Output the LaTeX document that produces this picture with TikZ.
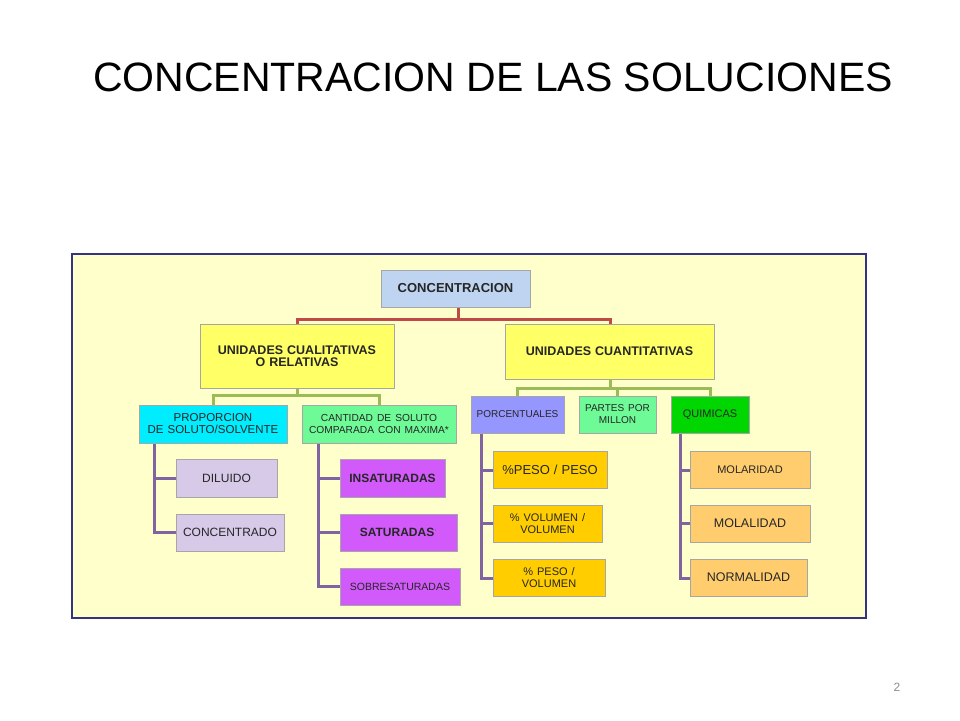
\documentclass[tikz,border=0pt]{standalone}
\usepackage{fontspec}
\setmainfont{Liberation Sans}
\usetikzlibrary{calc}
\definecolor{cconc}{RGB}{190,212,240}
\definecolor{cyel}{RGB}{255,255,102}
\definecolor{ccyan}{RGB}{0,236,255}
\definecolor{cgreen}{RGB}{110,250,150}
\definecolor{cpurple}{RGB}{210,90,250}
\definecolor{clav}{RGB}{214,202,232}
\definecolor{cblue}{RGB}{150,150,255}
\definecolor{clime}{RGB}{0,215,0}
\definecolor{cgold}{RGB}{255,205,0}
\definecolor{ctan}{RGB}{255,205,110}
\definecolor{cframe}{RGB}{255,255,204}
\definecolor{cred}{RGB}{190,75,72}
\definecolor{cgl}{RGB}{155,187,89}
\definecolor{cpl}{RGB}{128,100,162}
\newcommand\bx[7]{\node[boxst,fill=#6,minimum width={(#4-#2)*1pt},minimum height={(#5-#3)*1pt},text width={(#4-#2-4)*1pt}] (#1) at ({(#2+#4)/2},{(#3+#5)/2}) {#7};}
\begin{document}
\begin{tikzpicture}[x=1pt,y=-1pt,
 boxst/.style={draw=black!35,line width=0.8pt,inner sep=1pt,align=center,font=\bfseries\fontsize{12}{12}\selectfont,text=black!85},
 red/.style={draw=cred,line width=3pt},
 grn/.style={draw=cgl,line width=3pt},
 pur/.style={draw=cpl,line width=3pt}]
\useasboundingbox (0,0) rectangle (960,720);
\fill[black!55] (82,58) rectangle (82,58);
\node[font=\fontsize{41}{44}\selectfont,text=black!55] (tshadow) at (496,79) {\phantom{C}};
\node[font=\fontsize{41}{44}\selectfont] (title) at (493,77) {CONCENTRACION DE LAS SOLUCIONES};
\draw[fill=cframe,draw=black!50!blue!60!gray,line width=2.5pt] (72,254) rectangle (866,618);
% connectors
\coordinate (r1) at (458,319);
\draw[red] (458,307) -- (r1);
\draw[red] (297,324) |- (r1) -| (610,324);
\draw[grn] (297,388) -- (297,395);
\draw[grn] (213,405) |- (297,395) -| (379,405);
\draw[grn] (610,379) -- (610,388);
\draw[grn] (517,396) |- (610,388) -| (710,396);
\draw[grn] (617,388) -- (617,396);
\draw[pur] (154,443) |- (176,478);
\draw[pur] (154,470) |- (176,532);
\draw[pur] (318,443) |- (340,478);
\draw[pur] (318,470) |- (340,532);
\draw[pur] (318,530) |- (340,586);
\draw[pur] (481,433) |- (493,470);
\draw[pur] (481,460) |- (493,523);
\draw[pur] (481,520) |- (493,578);
\draw[pur] (680,433) |- (690,470);
\draw[pur] (680,460) |- (690,523);
\draw[pur] (680,520) |- (690,578);
% boxes
\bx{conc}{381}{270}{530}{307}{cconc}{\fontsize{13}{14}\selectfont CONCENTRACION}
\bx{qual}{200}{324}{394}{388}{cyel}{\fontsize{12.5}{20}\selectfont UNIDADES CUALITATIVAS\\O RELATIVAS}
\bx{quant}{505}{324}{714}{379}{cyel}{\fontsize{12.5}{13}\selectfont UNIDADES CUANTITATIVAS}
\bx{prop}{139}{405}{287}{443}{ccyan}{\mdseries\fontsize{11.5}{16}\selectfont PROPORCION\\DE SOLUTO/SOLVENTE}
\bx{cant}{302}{405}{456}{443}{cgreen}{\mdseries\fontsize{10.2}{11}\selectfont CANTIDAD DE SOLUTO\\COMPARADA CON MAXIMA*}
\bx{dil}{176}{459}{277}{497}{clav}{\mdseries DILUIDO}
\bx{cdo}{176}{514}{284}{551}{clav}{\mdseries CONCENTRADO}
\bx{ins}{340}{459}{445}{497}{cpurple}{INSATURADAS}
\bx{sat}{340}{514}{457}{551}{cpurple}{SATURADAS$^{\cdot}$}
\bx{sob}{340}{568}{460}{605}{cpurple}{\mdseries\fontsize{10.5}{11}\selectfont SOBRESATURADAS}
\bx{porc}{471}{396}{564}{433}{cblue}{\mdseries\fontsize{10}{11}\selectfont PORCENTUALES}
\bx{ppm}{579}{396}{656}{433}{cgreen}{\mdseries\fontsize{10}{10}\selectfont PARTES POR\\MILLON}
\bx{quim}{671}{396}{749}{433}{clime}{\mdseries\fontsize{11}{12}\selectfont QUIMICAS}
\bx{pp}{493}{451}{607}{488}{cgold}{\mdseries\fontsize{13}{14}\selectfont \%PESO / PESO}
\bx{vv}{493}{505}{602}{542}{cgold}{\mdseries\fontsize{11}{11}\selectfont \% VOLUMEN /\\VOLUMEN}
\bx{pv}{493}{559}{605}{596}{cgold}{\mdseries\fontsize{11}{11}\selectfont \% PESO /\\VOLUMEN}
\bx{mol}{690}{451}{810}{488}{ctan}{\mdseries\fontsize{11}{12}\selectfont MOLARIDAD}
\bx{mll}{690}{505}{810}{542}{ctan}{\mdseries\fontsize{12.5}{13}\selectfont MOLALIDAD}
\bx{nor}{690}{559}{807}{596}{ctan}{\mdseries\fontsize{12.5}{13}\selectfont NORMALIDAD}
\node[font=\fontsize{12}{13}\selectfont,text=black!45] (pg) at (897,687) {2};
\end{tikzpicture}
\end{document}
